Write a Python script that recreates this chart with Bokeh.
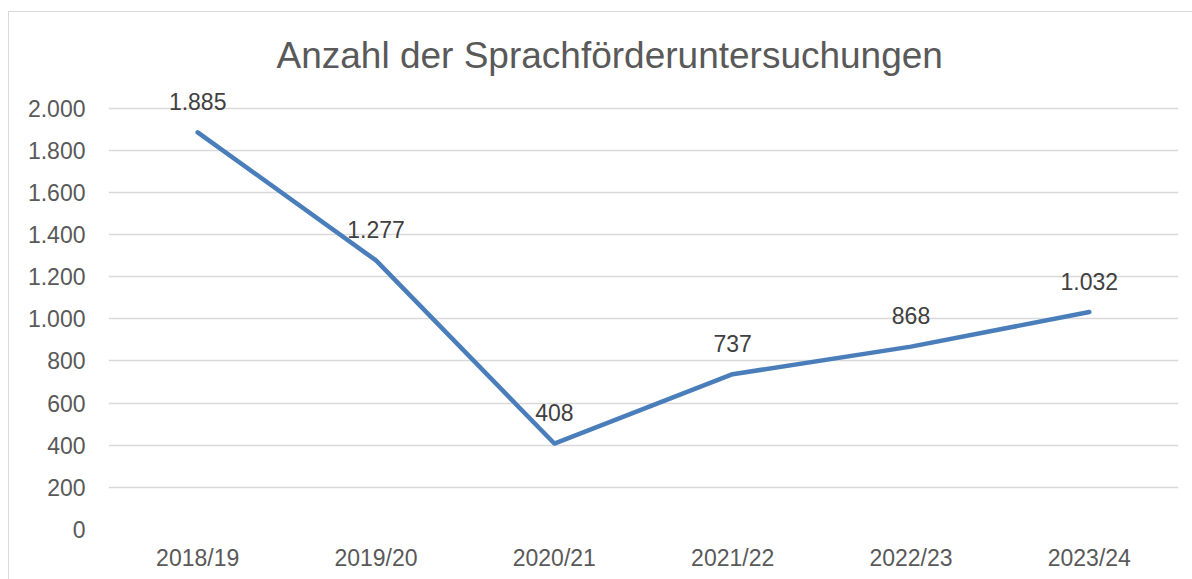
from bokeh.plotting import figure
from bokeh.models import ColumnDataSource, LabelSet, FixedTicker, Title, Range1d, FactorRange
from bokeh.core.properties import value
from bokeh.embed import file_html
from bokeh.resources import INLINE

# ---- data ----
years = ["2018/19", "2019/20", "2020/21", "2021/22", "2022/23", "2023/24"]
counts = [1885, 1277, 408, 737, 868, 1032]
count_labels = ["1.885", "1.277", "408", "737", "868", "1.032"]
y_ticks = [0, 200, 400, 600, 800, 1000, 1200, 1400, 1600, 1800, 2000]
y_tick_labels = ["0", "200", "400", "600", "800", "1.000", "1.200", "1.400", "1.600", "1.800", "2.000"]
title_text = "Anzahl der Sprachförderuntersuchungen"

FONT = "Liberation Sans"
TXT = "#595959"

src = ColumnDataSource(dict(year=years, count=counts, label=count_labels))

p = figure(width=1184, height=568,
           x_range=FactorRange(*years), y_range=Range1d(0, 2150),
           output_backend="svg", toolbar_location=None,
           min_border_left=99, min_border_right=15,
           min_border_top=64, min_border_bottom=51)
p.margin = (11, 0, 0, 8)
p.styles = {"border-left": "1px solid #d9d9d9", "border-top": "1px solid #d9d9d9"}
p.outline_line_color = None
p.background_fill_color = "white"
p.border_fill_color = "white"

t = Title(text=title_text, align="left", offset=168, standoff=1,
          text_font_size="37px", text_font=FONT,
          text_color=TXT, text_font_style="normal")
p.add_layout(t, "above")

p.line(x="year", y="count", source=src, line_width=4.5, line_color="#4a7ebb",
       line_join="round", line_cap="round")

labels = LabelSet(x="year", y="count", text="label", source=src, y_offset=31,
                  text_align="center", text_baseline="middle",
                  text_font=value(FONT), text_font_size="23px", text_color="#404040")
p.add_layout(labels)

p.xgrid.grid_line_color = None
p.ygrid.grid_line_color = "#d9d9d9"
p.ygrid.grid_line_width = 1.5

for ax in (p.xaxis, p.yaxis):
    ax.axis_line_color = None
    ax.major_tick_line_color = None
    ax.minor_tick_line_color = None
    ax.major_label_text_font = FONT
    ax.major_label_text_font_size = "23px"
    ax.major_label_text_color = TXT

p.xaxis.major_label_standoff = 9
p.yaxis.ticker = FixedTicker(ticks=y_ticks)
p.yaxis.major_label_overrides = dict(zip(y_ticks, y_tick_labels))
p.yaxis.major_label_standoff = 17

open("out.html", "w").write(file_html(p, INLINE))
